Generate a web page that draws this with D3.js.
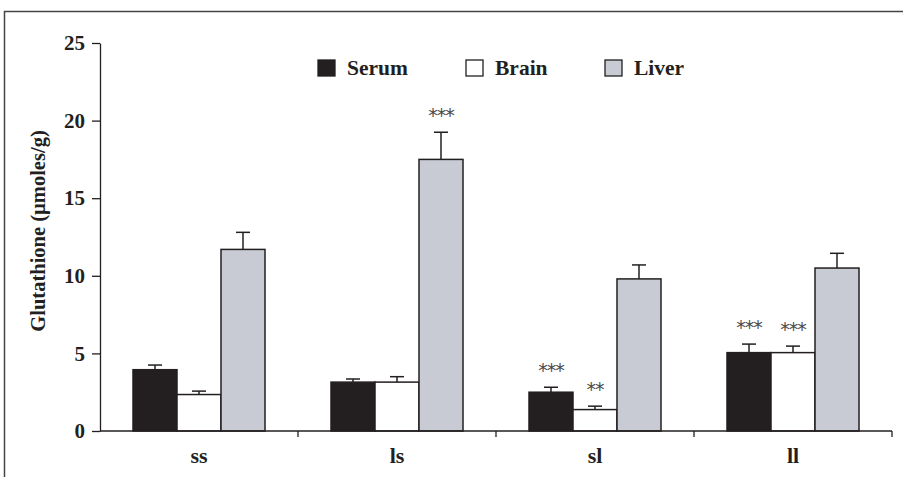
<!DOCTYPE html>
<html>
<head>
<meta charset="utf-8">
<script src="https://cdn.jsdelivr.net/npm/d3@7"></script>
<style>
  body { margin: 0; background: #fff; }
  text { font-family: "Liberation Serif", "Times New Roman", serif; font-weight: bold; fill: #231f20; }
</style>
</head>
<body>
<script>
// data
var groups = ["ss", "ls", "sl", "ll"];
var seriesNames = ["Serum", "Brain", "Liver"];
var serum = [3.95, 3.15, 2.5, 5.05];
var serumErr = [0.3, 0.2, 0.32, 0.55];
var brain = [2.35, 3.15, 1.38, 5.05];
var brainErr = [0.22, 0.35, 0.22, 0.42];
var liver = [11.7, 17.5, 9.8, 10.5];
var liverErr = [1.1, 1.75, 0.9, 0.95];
var stars = [["", "", ""], ["", "", "***"], ["***", "**", ""], ["***", "***", ""]];
var yTicks = [0, 5, 10, 15, 20, 25];

var colors = {Serum: "#231f20", Brain: "#ffffff", Liver: "#c8cbd3"};

var width = 903, height = 477;
var margin = {top: 43, right: 11, bottom: 46, left: 100};
var w = width - margin.left - margin.right,
    h = height - margin.top - margin.bottom;

var svg = d3.select("body").append("svg")
    .attr("width", width)
    .attr("height", height);

// outer frame
svg.append("path")
    .attr("d", "M4.5," + height + "V11.5H" + width)
    .attr("fill", "none")
    .attr("stroke", "#444")
    .attr("stroke-width", 1.5);

var g = svg.append("g")
    .attr("transform", "translate(" + margin.left + "," + margin.top + ")");

var x0 = d3.scaleBand().domain(groups).range([0, w]);
var x1 = d3.scaleBand().domain(seriesNames).range([x0.bandwidth() / 6, x0.bandwidth() * 5 / 6]);
var y = d3.scaleLinear().domain([0, 25]).range([h, 0]);

// rows of bar data
var rows = [];
groups.forEach(function(grp, i) {
  rows.push({g: grp, s: "Serum", v: serum[i], e: serumErr[i], star: stars[i][0]});
  rows.push({g: grp, s: "Brain", v: brain[i], e: brainErr[i], star: stars[i][1]});
  rows.push({g: grp, s: "Liver", v: liver[i], e: liverErr[i], star: stars[i][2]});
});

// error bars (upward only)
var eb = g.selectAll(".err").data(rows).enter().append("g").attr("class", "err");
eb.append("line")
    .attr("x1", d => x0(d.g) + x1(d.s) + x1.bandwidth() / 2)
    .attr("x2", d => x0(d.g) + x1(d.s) + x1.bandwidth() / 2)
    .attr("y1", d => y(d.v))
    .attr("y2", d => y(d.v + d.e))
    .attr("stroke", "#231f20").attr("stroke-width", 1.5);
eb.append("line")
    .attr("x1", d => x0(d.g) + x1(d.s) + x1.bandwidth() / 2 - 7)
    .attr("x2", d => x0(d.g) + x1(d.s) + x1.bandwidth() / 2 + 7)
    .attr("y1", d => y(d.v + d.e))
    .attr("y2", d => y(d.v + d.e))
    .attr("stroke", "#231f20").attr("stroke-width", 1.5);

// bars
g.selectAll(".bar").data(rows).enter().append("rect")
    .attr("class", "bar")
    .attr("x", d => x0(d.g) + x1(d.s))
    .attr("y", d => y(d.v))
    .attr("width", x1.bandwidth())
    .attr("height", d => h - y(d.v))
    .attr("fill", d => colors[d.s])
    .attr("stroke", "#231f20")
    .attr("stroke-width", 1.5);

// significance stars
g.selectAll(".star").data(rows.filter(d => d.star)).enter().append("text")
    .attr("class", "star")
    .attr("x", d => x0(d.g) + x1(d.s) + x1.bandwidth() / 2)
    .attr("y", d => y(d.v + d.e) - 10)
    .attr("text-anchor", "middle")
    .style("font-family", "'DejaVu Sans', sans-serif")
    .style("font-weight", "normal")
    .style("font-size", "19px")
    .style("letter-spacing", "-1px")
    .style("fill", "#4a4a4a")
    .text(d => d.star);

// y axis
var yAxis = g.append("g")
    .call(d3.axisLeft(y).tickValues(yTicks).tickSize(8).tickPadding(7).tickSizeOuter(0));
yAxis.selectAll("text").style("font-size", "21px");
yAxis.selectAll("line, path").attr("stroke", "#231f20").attr("stroke-width", 1.3);

// x axis with ticks at group boundaries
var xAxis = g.append("g").attr("transform", "translate(0," + h + ")");
xAxis.append("line").attr("x1", 0).attr("x2", w).attr("stroke", "#231f20").attr("stroke-width", 1.5);
xAxis.selectAll(".xt").data(groups).enter().append("line")
    .attr("x1", d => x0(d) + x0.bandwidth())
    .attr("x2", d => x0(d) + x0.bandwidth())
    .attr("y1", 0).attr("y2", 6)
    .attr("stroke", "#231f20").attr("stroke-width", 1.3);
xAxis.selectAll(".xl").data(groups).enter().append("text")
    .attr("x", d => x0(d) + x0.bandwidth() / 2)
    .attr("y", 32)
    .attr("text-anchor", "middle")
    .style("font-size", "22px")
    .text(d => d);

// y title
svg.append("text")
    .attr("transform", "translate(45," + (margin.top + h / 2 - 6) + ") rotate(-90)")
    .attr("text-anchor", "middle")
    .style("font-size", "20.5px")
    .text("Glutathione (\u00b5moles/g)");

// legend
var legendX = [318, 466, 605];
var legend = svg.selectAll(".leg").data(seriesNames).enter().append("g")
    .attr("transform", (d, i) => "translate(" + legendX[i] + ",60)");
legend.append("rect")
    .attr("width", 17).attr("height", 16)
    .attr("fill", d => colors[d])
    .attr("stroke", "#231f20").attr("stroke-width", 1.3);
legend.append("text")
    .attr("x", 29).attr("y", 15)
    .style("font-size", "21.5px")
    .text(d => d);
</script>
</body>
</html>
